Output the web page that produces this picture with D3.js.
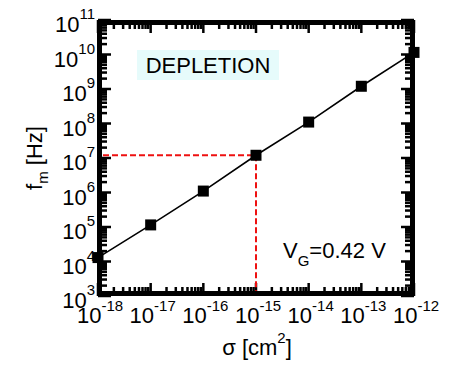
<!DOCTYPE html>
<html lang="en">
<head>
<meta charset="UTF-8">
<title>fm vs sigma</title>
<script src="https://d3js.org/d3.v7.min.js"></script>
<style>
    body { margin: 0; background: #fff; }
    svg { display: block; font-family: "Liberation Sans", Arial, sans-serif; }
</style>
</head>
<body>
<svg width="454" height="368"></svg>
<script>
    // data
    const sigma = [1e-18, 1e-17, 1e-16, 1e-15, 1e-14, 1e-13, 1e-12];
    const fm = [1.3e4, 1.15e5, 1.1e6, 1.2e7, 1.1e8, 1.2e9, 1.15e10];
    const markSigma = 1e-15, markFm = 1.2e7;
    const xDecades = [-18, -17, -16, -15, -14, -13, -12];
    const yDecades = [3, 4, 5, 6, 7, 8, 9, 10, 11];

    const pLeft = 98, pRight = 414, pTop = 20, pBottom = 296;
    const frameW = 5;
    const svg = d3.select("svg");

    const x = d3.scaleLog().domain([1e-18, 1e-12]).range([pLeft, pRight]);
    const y = d3.scaleLog().domain([1e3, 1e11]).range([pBottom, pTop]);

    const isMajor = v => Math.abs(Math.log10(v) - Math.round(Math.log10(v))) < 1e-6;

    // ticks, pointing inward on all four sides
    const tickAttrs = sel => sel.attr("stroke", "#000").attr("stroke-width", 2.5);
    x.ticks().forEach(v => {
        const len = isMajor(v) ? 13 : 9;
        tickAttrs(svg.append("line").attr("x1", x(v)).attr("x2", x(v)).attr("y1", pBottom).attr("y2", pBottom - len));
        tickAttrs(svg.append("line").attr("x1", x(v)).attr("x2", x(v)).attr("y1", pTop).attr("y2", pTop + len));
    });
    y.ticks().forEach(v => {
        const len = isMajor(v) ? 13 : 9;
        tickAttrs(svg.append("line").attr("y1", y(v)).attr("y2", y(v)).attr("x1", pLeft).attr("x2", pLeft + len));
        tickAttrs(svg.append("line").attr("y1", y(v)).attr("y2", y(v)).attr("x1", pRight).attr("x2", pRight - len));
    });

    // thick frame, drawn inside the plot edges
    svg.append("rect")
        .attr("x", pLeft - 1 + frameW / 2).attr("y", pTop + frameW / 2)
        .attr("width", pRight - pLeft + 2 - frameW).attr("height", pBottom - pTop - frameW)
        .attr("fill", "none").attr("stroke", "#000").attr("stroke-width", frameW);

    // tick labels
    xDecades.forEach(e => {
        const t = svg.append("text")
            .attr("x", x(Math.pow(10, e)) + 2).attr("y", 323)
            .attr("text-anchor", "middle").attr("font-size", 22);
        t.append("tspan").text("10");
        t.append("tspan").attr("dy", -12).attr("font-size", 15).text(e);
    });
    yDecades.forEach(e => {
        const t = svg.append("text")
            .attr("x", 95).attr("y", y(Math.pow(10, e)) + 12)
            .attr("text-anchor", "end").attr("font-size", 22);
        t.append("tspan").text("10");
        t.append("tspan").attr("dy", -13).attr("font-size", 15).text(e);
    });

    // axis titles
    const xt = svg.append("text")
        .attr("x", 257).attr("y", 355)
        .attr("text-anchor", "middle").attr("font-size", 22);
    xt.append("tspan").text("σ [cm");
    xt.append("tspan").attr("dy", -12).attr("font-size", 15).text("2");
    xt.append("tspan").attr("dy", 12).text("]");

    const yt = svg.append("text")
        .attr("transform", "translate(42,158) rotate(-90)")
        .attr("text-anchor", "middle").attr("font-size", 22);
    yt.append("tspan").text("f");
    yt.append("tspan").attr("dy", 6).attr("font-size", 15).text("m");
    yt.append("tspan").attr("dy", -6).text(" [Hz]");

    // red dashed guide lines
    svg.append("path")
        .attr("d", `M${pLeft + frameW},${y(markFm)}H${x(markSigma)}V${pBottom - frameW}`)
        .attr("fill", "none").attr("stroke", "#ee1111")
        .attr("stroke-width", 2).attr("stroke-dasharray", "6,3");

    // data line and markers
    const pts = sigma.map((s, i) => [s, fm[i]]);
    svg.append("path")
        .datum(pts)
        .attr("d", d3.line().x(d => x(d[0])).y(d => y(d[1])))
        .attr("fill", "none").attr("stroke", "#000").attr("stroke-width", 1.6);

    svg.selectAll(".pt").data(pts).join("rect")
        .attr("class", "pt")
        .attr("x", d => x(d[0]) - 5.5).attr("y", d => y(d[1]) - 5.5)
        .attr("width", 11).attr("height", 11)
        .attr("fill", "#000");

    // annotations
    svg.append("rect")
        .attr("x", 137).attr("y", 50).attr("width", 142).attr("height", 30)
        .attr("fill", "#e6fbfb");
    svg.append("text")
        .attr("x", 208).attr("y", 73)
        .attr("text-anchor", "middle").attr("font-size", 22)
        .text("DEPLETION");

    const vg = svg.append("text")
        .attr("x", 283).attr("y", 258).attr("font-size", 22);
    vg.append("tspan").text("V");
    vg.append("tspan").attr("dy", 8).attr("font-size", 15).text("G");
    vg.append("tspan").attr("dy", -8).text("=0.42 V");
</script>
</body>
</html>
